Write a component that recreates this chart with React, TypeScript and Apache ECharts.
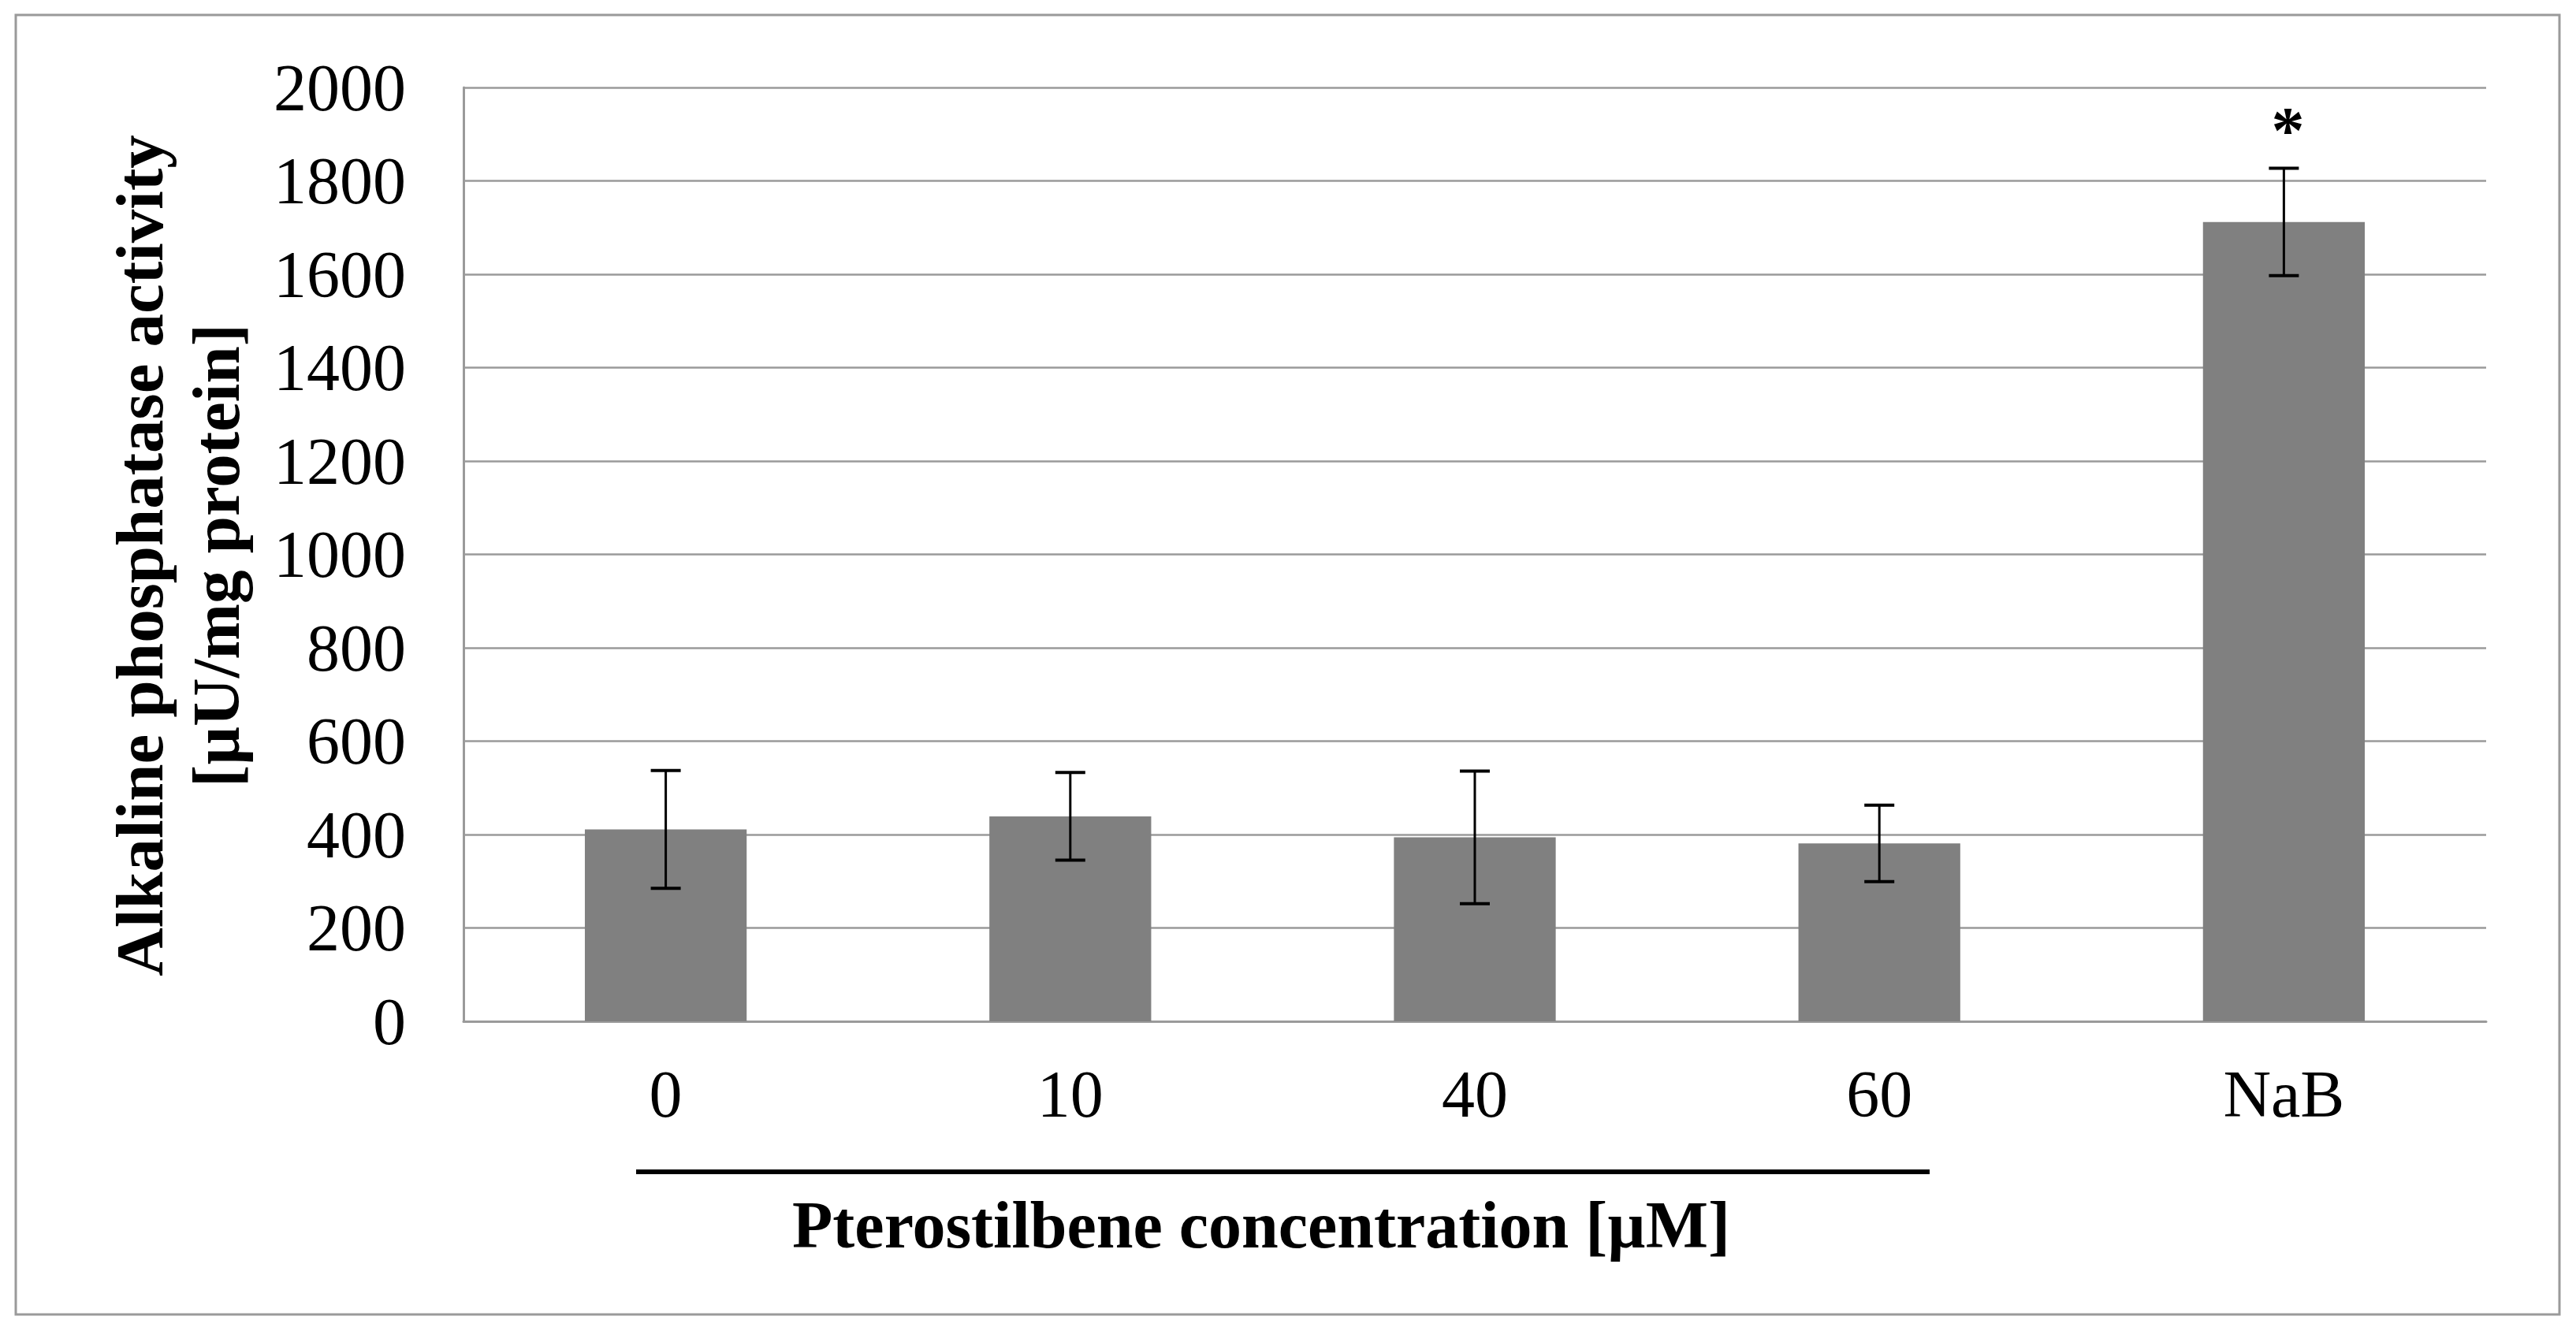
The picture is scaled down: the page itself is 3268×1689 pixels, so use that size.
import React, { useEffect, useRef } from 'react';
import * as echarts from 'echarts';

// ---- data ----
const categories = ['0', '10', '40', '60', 'NaB'];
const meanValues = [411, 439, 394, 381, 1712];
const sdValues = [126, 94, 142, 82, 115];
const significance = ['', '', '', '', '*'];
const yMin = 0;
const yMax = 2000;
const yInterval = 200;
const yAxisTitleLines = ['Alkaline phosphatase activity', '[µU/mg protein]'];
const xAxisTitle = 'Pterostilbene concentration [µM]';

const W = 3268;
const H = 1689;
const SERIF = '"Liberation Serif", "Times New Roman", Times, serif';

export default function App() {
  const ref = useRef<HTMLDivElement>(null);

  useEffect(() => {
    document.body.style.margin = '0';
    document.body.style.overflow = 'hidden';
    if (!ref.current) return;
    const chart = echarts.init(ref.current, undefined, { renderer: 'svg', width: W, height: H });

    const errData = categories.map((c, i) => [i, meanValues[i] - sdValues[i], meanValues[i] + sdValues[i]]);

    const titleStyle = {
      fontFamily: SERIF,
      fontWeight: 'bold',
      fontSize: 85,
      fill: '#000',
      align: 'center',
      verticalAlign: 'middle',
    };

    const option: any = {
      animation: false,
      backgroundColor: '#ffffff',
      grid: { left: 588, right: W - 3154, top: 111, bottom: H - 1296, containLabel: false },
      xAxis: {
        type: 'category',
        data: categories,
        axisLine: { show: true, lineStyle: { color: '#9a9a9a', width: 3 } },
        axisTick: { show: false },
        axisLabel: { fontFamily: SERIF, fontSize: 84, color: '#000', margin: 50 },
        splitLine: { show: false },
      },
      yAxis: {
        type: 'value',
        min: yMin,
        max: yMax,
        interval: yInterval,
        axisLine: { show: true, lineStyle: { color: '#9a9a9a', width: 3 } },
        axisTick: { show: false },
        axisLabel: {
          fontFamily: SERIF,
          fontSize: 84,
          color: '#000',
          margin: 73,
          formatter: (v: number) => String(v),
        },
        splitLine: { show: true, lineStyle: { color: '#9a9a9a', width: 2.5 } },
      },
      series: [
        {
          type: 'bar',
          data: meanValues,
          barWidth: '40%',
          itemStyle: { color: '#808080' },
          z: 2,
        },
        {
          type: 'custom',
          data: errData,
          encode: { x: 0, y: [1, 2] },
          z: 5,
          renderItem: (params: any, api: any) => {
            const i = api.value(0);
            const lo = api.value(1);
            const hi = api.value(2);
            const pHi = api.coord([i, hi]);
            const pLo = api.coord([i, lo]);
            const x = pHi[0];
            const half = 19;
            const style = { stroke: '#000', lineWidth: 3 };
            const capStyle = { stroke: '#000', lineWidth: 4 };
            const children: any[] = [
              { type: 'line', shape: { x1: x, y1: pHi[1], x2: x, y2: pLo[1] }, style },
              { type: 'line', shape: { x1: x - half, y1: pHi[1], x2: x + half, y2: pHi[1] }, style: capStyle },
              { type: 'line', shape: { x1: x - half, y1: pLo[1], x2: x + half, y2: pLo[1] }, style: capStyle },
            ];
            const sig = significance[params.dataIndex];
            if (sig) {
              children.push({
                type: 'text',
                x: x + 5,
                y: pHi[1] - 48,
                style: {
                  text: sig,
                  fontFamily: SERIF,
                  fontWeight: 'bold',
                  fontSize: 84,
                  fill: '#000',
                  align: 'center',
                  verticalAlign: 'middle',
                },
              });
            }
            return { type: 'group', children };
          },
        },
      ],
      graphic: [
        {
          type: 'rect',
          shape: { x: 20, y: 19, width: 3227, height: 1649 },
          style: { fill: 'none', stroke: '#9a9a9a', lineWidth: 3 },
          z: -1,
        },
        {
          type: 'text',
          x: 177,
          y: 705,
          rotation: Math.PI / 2,
          style: { ...titleStyle, text: yAxisTitleLines[0] },
        },
        {
          type: 'text',
          x: 274,
          y: 705,
          rotation: Math.PI / 2,
          style: { ...titleStyle, text: yAxisTitleLines[1] },
        },
        {
          type: 'line',
          shape: { x1: 807, y1: 1487, x2: 2448, y2: 1487 },
          style: { stroke: '#000', lineWidth: 6 },
        },
        {
          type: 'text',
          x: 1600,
          y: 1554,
          style: { ...titleStyle, fontSize: 84, text: xAxisTitle },
        },
      ],
    };

    chart.setOption(option);
    return () => {
      chart.dispose();
    };
  }, []);

  return <div ref={ref} style={{ width: W, height: H }} />;
}
